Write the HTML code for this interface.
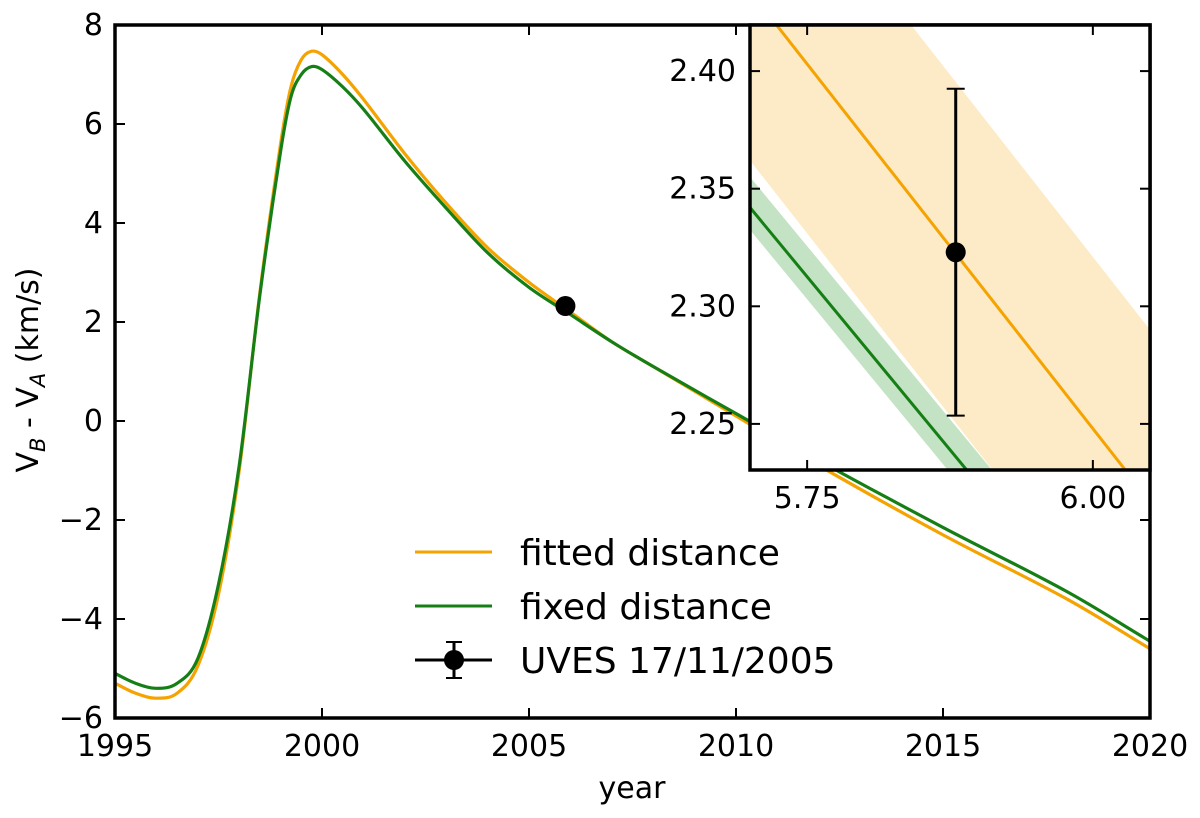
<!DOCTYPE html>
<html><head><meta charset="utf-8"><style>
body{margin:0;background:#fff}
svg text{font-family:"DejaVu Sans","Liberation Sans",sans-serif;fill:#000}
</style></head><body>
<svg id="c" width="1200" height="813" xmlns="http://www.w3.org/2000/svg"></svg>
<script>
const years=[1995,1995.5,1996,1996.5,1997,1997.5,1998,1998.5,1999,1999.25,1999.5,1999.75,2000,2000.5,2001,2002,2003,2004,2005,2006,2007,2008,2010,2012,2015,2018,2020];
const fitted=[-5.3,-5.5,-5.6,-5.5,-4.95,-3.5,-1.0,2.6,5.6,6.75,7.3,7.47,7.4,7.0,6.5,5.4,4.4,3.5,2.8,2.2,1.6,1.1,0.1,-0.9,-2.3,-3.6,-4.6];
const fixedD=[-5.1,-5.3,-5.4,-5.3,-4.8,-3.3,-0.9,2.55,5.45,6.55,7.0,7.16,7.1,6.75,6.3,5.25,4.3,3.4,2.7,2.15,1.6,1.1,0.15,-0.8,-2.15,-3.45,-4.45];
const obsX=[2005.88], obsY=[2.323], obsErr=[0.069];
const xTicks=[1995,2000,2005,2010,2015,2020];
const yTicks=[-6,-4,-2,0,2,4,6,8];
const insX=[5.70,6.05];
const insFit=[2.434,2.217], insFitLo=[2.362,2.145], insFitHi=[2.507,2.290];
const insFix=[2.342,2.136], insFixLo=[2.3325,2.126], insFixHi=[2.355,2.149];
const insObsX=[5.88], insObsY=[2.323], insErr=[0.0695];
const insXTicks=[5.75,6.00], insYTicks=[2.25,2.30,2.35,2.40];

const S=document.getElementById('c'),NS='http://www.w3.org/2000/svg';
function el(t,a,p){const e=document.createElementNS(NS,t);for(const k in a)e.setAttribute(k,a[k]);(p||S).appendChild(e);return e;}
const L=115,R=1150,T=25,B=718;
const X=v=>L+(v-1995)/25*(R-L), Y=v=>T+(8-v)/14*(B-T);
function path(xs,ys,fx,fy){const p=xs.map((x,i)=>[fx(x),fy(ys[i])]);let d='M'+p[0];for(let i=0;i<p.length-1;i++){const p0=p[i-1]||p[i],p1=p[i],p2=p[i+1],p3=p[i+2]||p2;
 const h=p2[0]-p1[0];const s1=(p2[1]-p0[1])/(p2[0]-p0[0]||1),s2=(p3[1]-p1[1])/(p3[0]-p1[0]||1);
 d+=' C'+(p1[0]+h/3)+','+(p1[1]+s1*h/3)+' '+(p2[0]-h/3)+','+(p2[1]-s2*h/3)+' '+p2;}return d;}
let g=el('g',{});

let e=el('path',{d:path(years,fitted,X,Y),fill:'none',stroke:'#f5a300','stroke-width':3.2},g);

e=el('path',{d:path(years,fixedD,X,Y),fill:'none',stroke:'#157f15','stroke-width':3.2},g);

obsX.forEach((x,i)=>{
 e=el('line',{x1:X(x),x2:X(x),y1:Y(obsY[i]+obsErr[i]),y2:Y(obsY[i]-obsErr[i]),stroke:'#000','stroke-width':3},g);
 
 e=el('circle',{cx:X(x),cy:Y(obsY[i]),r:10,fill:'#000'},g);
 
});
e=el('rect',{x:L,y:T,width:R-L,height:B-T,fill:'none',stroke:'#000','stroke-width':3.5});

xTicks.forEach(t=>{
 el('line',{x1:X(t),x2:X(t),y1:B,y2:B-10,stroke:'#000','stroke-width':2});
 el('line',{x1:X(t),x2:X(t),y1:T,y2:T+10,stroke:'#000','stroke-width':2});
 e=el('text',{x:X(t),y:B+38,'text-anchor':'middle','font-size':30});e.textContent=t;
 
});
yTicks.forEach(t=>{
 el('line',{x1:L,x2:L+10,y1:Y(t),y2:Y(t),stroke:'#000','stroke-width':2});
 el('line',{x1:R,x2:R-10,y1:Y(t),y2:Y(t),stroke:'#000','stroke-width':2});
 e=el('text',{x:L-12,y:Y(t)+10,'text-anchor':'end','font-size':30});e.textContent=t<0?'\u2212'+(-t):t;
 
});
e=el('text',{x:632,y:798,'text-anchor':'middle','font-size':30});e.textContent='year';

e=el('text',{transform:'translate(38,370) rotate(-90)','text-anchor':'middle','font-size':30});
e.innerHTML='V<tspan font-size="21" font-style="italic" dy="7">B</tspan><tspan dy="-7"> - V</tspan><tspan font-size="21" font-style="italic" dy="7">A</tspan><tspan dy="-7"> (km/s)</tspan>';

const leg=[['fitted distance','#f5a300',552],['fixed distance','#157f15',606],['UVES 17/11/2005','#000',660]];
leg.forEach((l,i)=>{
 const lg=el('g',{});
 
 el('line',{x1:415,x2:492,y1:l[2],y2:l[2],stroke:l[1],'stroke-width':3},lg);
 if(i==2){el('line',{x1:454,x2:454,y1:l[2]-18,y2:l[2]+18,stroke:'#000','stroke-width':3},lg);
  el('line',{x1:446,x2:462,y1:l[2]-18,y2:l[2]-18,stroke:'#000','stroke-width':2},lg);
  el('line',{x1:446,x2:462,y1:l[2]+18,y2:l[2]+18,stroke:'#000','stroke-width':2},lg);
  el('circle',{cx:454,cy:l[2],r:10,fill:'#000'},lg);}
 const t=el('text',{x:520,y:l[2]+13,'font-size':36},lg);t.textContent=l[0];
});
const iL=750,iR=1150,iT=25,iB=470;
const IX=v=>iL+(v-5.70)/0.35*(iR-iL), IY=v=>iT+(2.4196-v)/(2.4196-2.2304)*(iB-iT);
const ig=el('g',{});

el('rect',{x:iL,y:iT,width:iR-iL,height:iB-iT,fill:'#fff'},ig);
const cp=el('clipPath',{id:'ic'},ig);el('rect',{x:iL,y:iT,width:iR-iL,height:iB-iT},cp);
const ic=el('g',{'clip-path':'url(#ic)'},ig);
function band(lo,hi,fill,name){const d='M'+IX(insX[0])+','+IY(hi[0])+' L'+IX(insX[1])+','+IY(hi[1])+' L'+IX(insX[1])+','+IY(lo[1])+' L'+IX(insX[0])+','+IY(lo[0])+'Z';
 const b=el('path',{d:d,fill:fill},ic);}
band(insFitLo,insFitHi,'#fdebc8','fitted-band');
band(insFixLo,insFixHi,'#c4e2c4','fixed-band');
e=el('line',{x1:IX(insX[0]),x2:IX(insX[1]),y1:IY(insFit[0]),y2:IY(insFit[1]),stroke:'#f5a300','stroke-width':3},ic);

e=el('line',{x1:IX(insX[0]),x2:IX(insX[1]),y1:IY(insFix[0]),y2:IY(insFix[1]),stroke:'#157f15','stroke-width':3},ic);

insObsX.forEach((x,i)=>{
 const a=IY(insObsY[i]+insErr[i]),b=IY(insObsY[i]-insErr[i]);
 e=el('line',{x1:IX(x),x2:IX(x),y1:a,y2:b,stroke:'#000','stroke-width':3},ic);
 
 el('line',{x1:IX(x)-9,x2:IX(x)+9,y1:a,y2:a,stroke:'#000','stroke-width':2},ic);
 el('line',{x1:IX(x)-9,x2:IX(x)+9,y1:b,y2:b,stroke:'#000','stroke-width':2},ic);
 e=el('circle',{cx:IX(x),cy:IY(insObsY[i]),r:10,fill:'#000'},ic);
 
});
el('rect',{x:iL,y:iT,width:iR-iL,height:iB-iT,fill:'none',stroke:'#000','stroke-width':3.5},ig);
insXTicks.forEach(t=>{
 el('line',{x1:IX(t),x2:IX(t),y1:iB,y2:iB-10,stroke:'#000','stroke-width':2},ig);
 el('line',{x1:IX(t),x2:IX(t),y1:iT,y2:iT+10,stroke:'#000','stroke-width':2},ig);
 e=el('text',{x:IX(t),y:iB+38,'text-anchor':'middle','font-size':30},ig);e.textContent=t.toFixed(2);
 
});
insYTicks.forEach(t=>{
 el('line',{x1:iL,x2:iL+10,y1:IY(t),y2:IY(t),stroke:'#000','stroke-width':2},ig);
 el('line',{x1:iR,x2:iR-10,y1:IY(t),y2:IY(t),stroke:'#000','stroke-width':2},ig);
 e=el('text',{x:iL-14,y:IY(t)+10,'text-anchor':'end','font-size':30},ig);e.textContent=t.toFixed(2);
 
});
</script>
</body></html>
